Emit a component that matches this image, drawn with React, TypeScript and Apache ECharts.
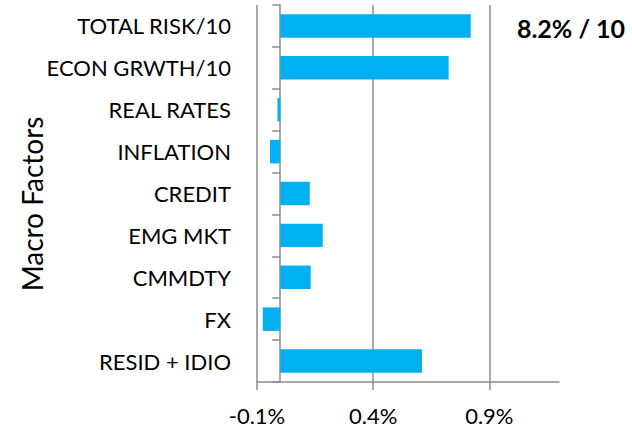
import React, { useEffect, useRef } from "react";
import * as echarts from "echarts";

const categories = [
  "TOTAL RISK/10",
  "ECON GRWTH/10",
  "REAL RATES",
  "INFLATION",
  "CREDIT",
  "EMG MKT",
  "CMMDTY",
  "FX",
  "RESID + IDIO",
];
const values = [0.82, 0.725, -0.012, -0.044, 0.127, 0.183, 0.131, -0.075, 0.61];
const xTicks = [-0.1, 0.4, 0.9];
const axisTitle = "Macro Factors";
const note = "8.2% / 10";

export default function App() {
  const ref = useRef<HTMLDivElement>(null);
  useEffect(() => {
    if (!ref.current) return;
    const chart = echarts.init(ref.current, null, { renderer: "svg" });
    const font = "Lato, 'Open Sans', sans-serif";
    chart.setOption({
      animation: false,
      grid: { left: 257, right: 73, top: 5, bottom: 50, containLabel: false },
      xAxis: {
        type: "value",
        min: -0.1,
        max: 1.2,
        interval: 0.5,
        axisLine: { show: true, lineStyle: { color: "#8c8c8c", width: 1.5 } },
        axisTick: { show: true, length: 8, customValues: xTicks, lineStyle: { color: "#8c8c8c", width: 1.5 } },
        splitLine: { show: true, lineStyle: { color: "#8c8c8c", width: 1.5 } },
        axisLabel: {
          customValues: xTicks,
          formatter: (v: number) => v.toFixed(1) + "%",
          color: "#000",
          fontSize: 22,
          fontFamily: font,
          margin: 22,
        },
      },
      yAxis: {
        type: "category",
        data: categories,
        inverse: true,
        axisLine: { show: true, onZero: true, lineStyle: { color: "#8c8c8c", width: 1.5 } },
        axisTick: { show: true, length: 8, lineStyle: { color: "#8c8c8c", width: 1.5 } },
        axisLabel: { color: "#000", fontSize: 22, fontFamily: font, margin: 26 },
      },
      graphic: [
        {
          type: "text",
          x: 32,
          y: 204,
          rotation: Math.PI / 2,
          style: {
            text: axisTitle,
            fontSize: 28,
            fontFamily: font,
            fill: "#000",
            align: "center",
            verticalAlign: "middle",
          },
        },
        {
          type: "text",
          x: 571,
          y: 28,
          style: {
            text: note,
            fontSize: 25,
            fontWeight: "bold",
            fontFamily: font,
            fill: "#000",
            align: "center",
            verticalAlign: "middle",
          },
        },
      ],
      series: [
        {
          type: "bar",
          data: values,
          barCategoryGap: "44%",
          itemStyle: { color: "#00B0F0" },
        },
      ],
    });
    return () => chart.dispose();
  }, []);
  return <div ref={ref} style={{ width: 632, height: 432, position: "absolute", left: 0, top: 0 }} />;
}
